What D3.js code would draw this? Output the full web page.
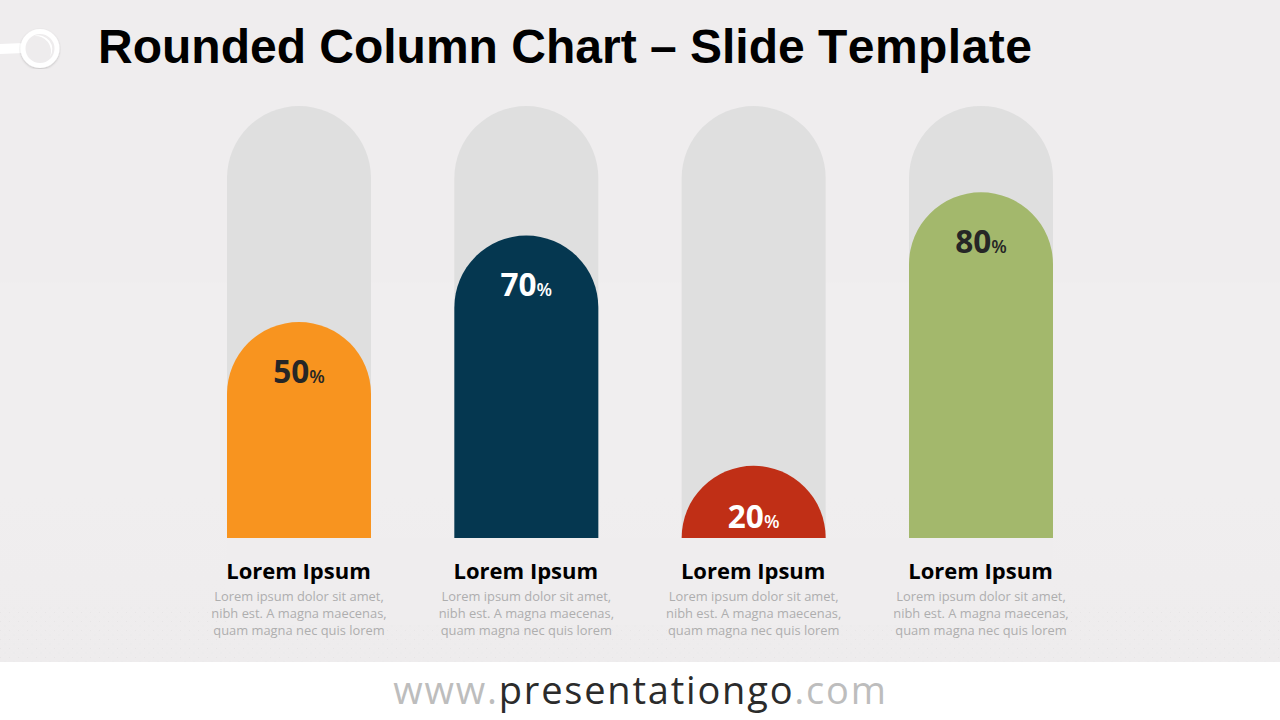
<!DOCTYPE html>
<html>
<head>
<meta charset="utf-8">
<title>Rounded Column Chart</title>
<script src="https://cdn.jsdelivr.net/npm/d3@7"></script>
<style>
  html, body { margin: 0; padding: 0; background: #fff; }
  svg { display: block; }
  text { font-family: "Open Sans", sans-serif; }
</style>
</head>
<body>
<svg id="chart" width="1280" height="720"></svg>
<script>
var titleStart = 'Rounded Column Chart \u2013 Slide ';
var titleEnd = 'Template';
var categories = ['Lorem Ipsum', 'Lorem Ipsum', 'Lorem Ipsum', 'Lorem Ipsum'];
var labels = [50, 70, 20, 80];
// drawn height, the 20% column is only a half circle
var filled = [50, 70, 16.7, 80];
var colors = ['#f8941f', '#053750', '#c02f16', '#a3b86c'];
var labelColors = ['#262626', '#ffffff', '#ffffff', '#262626'];
var bodyLines = ['Lorem ipsum dolor sit amet,', 'nibh est. A magna maecenas,', 'quam magna nec quis lorem'];

var svg = d3.select('#chart');
var defs = svg.append('defs');

var bgGrad = defs.append('linearGradient')
    .attr('id', 'bg')
    .attr('x1', 0).attr('x2', 0).attr('y1', 0).attr('y2', 1);
bgGrad.append('stop').attr('offset', '0%').attr('stop-color', '#efedee');
bgGrad.append('stop').attr('offset', '42.5%').attr('stop-color', '#efedee');
bgGrad.append('stop').attr('offset', '42.8%').attr('stop-color', '#f0eeef');
bgGrad.append('stop').attr('offset', '75%').attr('stop-color', '#f0eeef');
bgGrad.append('stop').attr('offset', '100%').attr('stop-color', '#eeeced');

var dots = defs.append('pattern')
    .attr('id', 'dots')
    .attr('width', 9).attr('height', 9)
    .attr('patternUnits', 'userSpaceOnUse');
dots.append('rect').attr('width', 1).attr('height', 1).attr('fill', '#e7e5e6');
dots.append('rect').attr('x', 4.5).attr('y', 4.5).attr('width', 1).attr('height', 1).attr('fill', '#e7e5e6');

var shadow = defs.append('filter').attr('id', 'soft');
shadow.append('feDropShadow')
    .attr('dx', 0).attr('dy', 1).attr('stdDeviation', 1)
    .attr('flood-color', '#000').attr('flood-opacity', 0.2);

svg.append('rect').attr('width', 1280).attr('height', 662).attr('fill', 'url(#bg)');
svg.append('rect').attr('y', 605).attr('width', 1280).attr('height', 57).attr('fill', 'url(#dots)');
// lighter panel under the columns, it hides the upper dots
svg.append('rect').attr('x', 227).attr('y', 538).attr('width', 826).attr('height', 87).attr('fill', '#efedee');

// pin icon next to the title
var pin = svg.append('g');
pin.append('path')
    .attr('d', 'M0,44L24,43L24,53L0,54Z')
    .attr('fill', '#ffffff');
pin.append('circle')
    .attr('cx', 40).attr('cy', 48.5).attr('r', 17)
    .attr('fill', '#eeeced').attr('stroke', '#ffffff').attr('stroke-width', 5)
    .attr('filter', 'url(#soft)');
pin.append('path')
    .attr('d', 'M34,36A14,14 0 0 1 50,57A15.5,15.5 0 0 0 34,36Z')
    .attr('fill', '#ffffff');

var title = svg.append('text')
    .attr('x', 98).attr('y', 63)
    .attr('fill', '#000000')
    .style('font-family', '"Liberation Sans", Arial, sans-serif')
    .style('font-weight', 700)
    .style('font-size', '48px')
    .style('font-kerning', 'none');
title.append('tspan').text(titleStart);
title.append('tspan').style('letter-spacing', '0.45px').text(titleEnd);

var x = d3.scaleBand()
    .domain(d3.range(categories.length))
    .range([227, 1053])
    .paddingInner(0.3666);

var y = d3.scaleLinear()
    .domain([0, 100])
    .range([538, 106]);

function column(i, value) {
    var r = x.bandwidth() / 2;
    var left = x(i);
    var top = y(value);
    var p = d3.path();
    p.moveTo(left, y(0));
    p.lineTo(left, top + r);
    p.arc(left + r, top + r, r, Math.PI, 0);
    p.lineTo(left + 2 * r, y(0));
    p.closePath();
    return p.toString();
}

svg.selectAll('.track')
    .data(categories)
    .enter().append('path')
    .attr('class', 'track')
    .attr('fill', '#dfdfdf')
    .attr('d', function (d, i) { return column(i, 100); });

svg.selectAll('.bar')
    .data(filled)
    .enter().append('path')
    .attr('class', 'bar')
    .attr('fill', function (d, i) { return colors[i]; })
    .attr('d', function (d, i) { return column(i, d); });

var valueText = svg.selectAll('.value')
    .data(labels)
    .enter().append('text')
    .attr('class', 'value')
    .attr('x', function (d, i) { return x(i) + x.bandwidth() / 2; })
    // the half circle label sits a bit lower
    .attr('y', function (d, i) { return y(filled[i]) + (d === 20 ? 62 : 60.5); })
    .attr('text-anchor', 'middle')
    .attr('fill', function (d, i) { return labelColors[i]; })
    .style('font-weight', 700)
    .style('font-size', '31.5px');
valueText.append('tspan').text(function (d) { return d; });
valueText.append('tspan').style('font-size', '18px').style('font-weight', 600).text('%');

svg.selectAll('.cat')
    .data(categories)
    .enter().append('text')
    .attr('class', 'cat')
    .attr('x', function (d, i) { return x(i) + x.bandwidth() / 2 - 0.5; })
    .attr('y', 578.5)
    .attr('text-anchor', 'middle')
    .attr('fill', '#000000')
    .style('font-weight', 700)
    .style('font-size', '22px')
    .text(function (d) { return d; });

categories.forEach(function (c, i) {
    svg.selectAll('.body' + i)
        .data(bodyLines)
        .enter().append('text')
        .attr('class', 'body' + i)
        .attr('x', x(i) + x.bandwidth() / 2)
        .attr('y', function (d, j) { return 601 + j * 17; })
        .attr('text-anchor', 'middle')
        .attr('fill', '#aeaeae')
        .style('font-size', '12.9px')
        .text(function (d) { return d; });
});

var footer = svg.append('text')
    .attr('x', 640.5).attr('y', 704)
    .attr('text-anchor', 'middle')
    .style('font-size', '38px')
    .style('letter-spacing', '1.8px');
footer.append('tspan').attr('fill', '#bdbdbd').text('www.');
footer.append('tspan').attr('fill', '#2b2b2b').text('presentationgo');
footer.append('tspan').attr('fill', '#bdbdbd').text('.com');
</script>
</body>
</html>
